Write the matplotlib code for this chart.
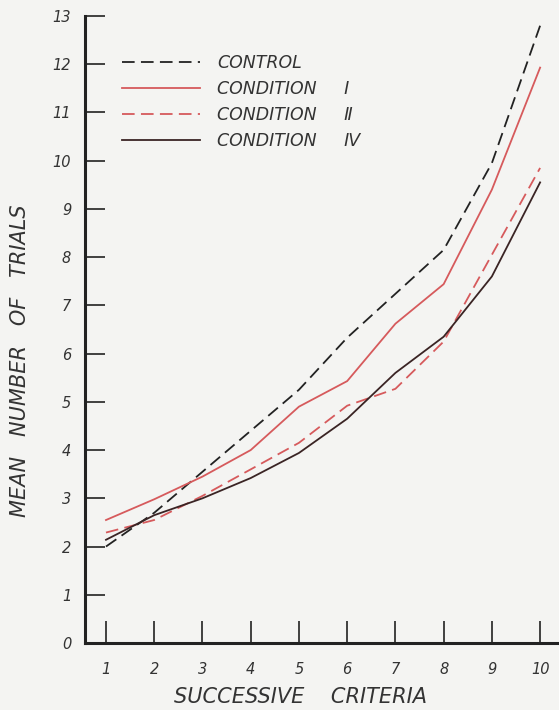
import matplotlib
matplotlib.use('Agg')
import matplotlib.pyplot as plt
from matplotlib.lines import Line2D

criteria = [1, 2, 3, 4, 5, 6, 7, 8, 9, 10]
control = [2.0, 2.7, 3.55, 4.4, 5.25, 6.33, 7.24, 8.15, 9.95, 12.8]
cond_1 = [2.55, 2.98, 3.45, 4.0, 4.9, 5.43, 6.62, 7.44, 9.4, 11.93]
cond_2 = [2.29, 2.55, 3.05, 3.6, 4.15, 4.92, 5.27, 6.25, 8.05, 9.85]
cond_4 = [2.14, 2.65, 3.0, 3.42, 3.94, 4.65, 5.6, 6.35, 7.6, 9.55]

labels = ["CONTROL", "CONDITION     \u2160", "CONDITION     \u2161", "CONDITION     \u2163"]
y_ticks = list(range(0, 14))
x_ticks = criteria

BG = '#f4f4f2'
INK = '#222222'
RED = '#d65a5c'
DARK = '#3a2424'
TXT = '#333333'
FONT = dict(family='DejaVu Sans', style='italic')

fig = plt.figure(figsize=(5.59, 7.10), dpi=100, facecolor=BG)
ax = fig.add_axes([85/559, (710-643)/710, (557-85)/559, (643-16)/710])
ax.set_facecolor(BG)

ax.plot(criteria, control, color=INK, lw=1.3, dashes=(7, 3.5))
ax.plot(criteria, cond_1, color=RED, lw=1.3)
ax.plot(criteria, cond_2, color=RED, lw=1.3, dashes=(7, 3.5))
ax.plot(criteria, cond_4, color=DARK, lw=1.3)

ax.set_xlim(0.565, 10.35)
ax.set_ylim(0, 13)
for s in ['top', 'right']:
    ax.spines[s].set_visible(False)
for s in ['left', 'bottom']:
    ax.spines[s].set_linewidth(2.2)
    ax.spines[s].set_color(INK)

ax.set_yticks(y_ticks)
ax.set_yticklabels([str(v) for v in y_ticks], fontsize=10.5, color=TXT, **FONT)
ax.set_xticks(x_ticks)
ax.set_xticklabels([str(v) for v in x_ticks], fontsize=10.5, color=TXT, **FONT)
ax.tick_params(axis='y', direction='in', length=14.5, width=1.2, color=INK, pad=10)
ax.tick_params(axis='x', direction='in', length=16, width=1.2, color=INK, pad=14)

fig.text(300/559, (710-697)/710, "SUCCESSIVE    CRITERIA", ha='center', va='center',
         fontsize=15, color=TXT, **FONT)
fig.text(20/559, (710-361)/710, "MEAN   NUMBER   OF   TRIALS", ha='center', va='center',
         rotation=90, fontsize=15, color=TXT, **FONT)

handles = [
    Line2D([], [], color=INK, lw=1.3, dashes=(7, 3.5)),
    Line2D([], [], color=RED, lw=1.3),
    Line2D([], [], color=RED, lw=1.3, dashes=(7, 3.5)),
    Line2D([], [], color=DARK, lw=1.3),
]
leg = ax.legend(handles, labels, loc='upper left', bbox_to_anchor=(0.078, 0.939),
                frameon=False, handlelength=4.5, handletextpad=1.0, labelspacing=0.45,
                borderpad=0, borderaxespad=0,
                prop=dict(family='DejaVu Sans', style='italic', size=12.5))
for t in leg.get_texts():
    t.set_color(TXT)

fig.savefig('out.png', dpi=100, facecolor=BG)
